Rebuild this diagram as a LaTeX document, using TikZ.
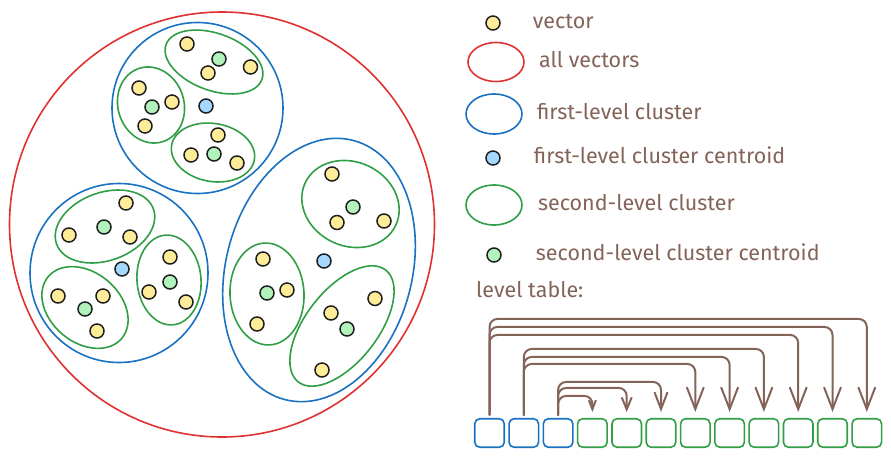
\documentclass[tikz,border=0pt]{standalone}
\usepackage{fontspec}
\setmainfont{Fira Sans}
\usepackage{tikz}
\usetikzlibrary{positioning,shapes.geometric,arrows.meta}

\definecolor{ink}{HTML}{1E1E1E}
\definecolor{allred}{HTML}{E03131}
\definecolor{firstblue}{HTML}{1971C2}
\definecolor{secondgreen}{HTML}{2F9E44}
\definecolor{vecfill}{HTML}{FFEC99}
\definecolor{firstfill}{HTML}{A5D8FF}
\definecolor{secondfill}{HTML}{B2F2BB}
\definecolor{brownink}{HTML}{846358}

\begin{document}
\begin{tikzpicture}[x=1pt,y=-1pt,node distance=3.2pt,
	dot/.style={circle,draw=ink,line width=1.5pt,minimum size=14pt,inner sep=0pt},
	vec/.style={dot,fill=vecfill},
	fcent/.style={dot,fill=firstfill},
	scent/.style={dot,fill=secondfill},
	allset/.style={circle,draw=allred,line width=1.6pt,inner sep=0pt},
	first/.style={ellipse,draw=firstblue,line width=1.6pt,inner sep=0pt},
	second/.style={ellipse,draw=secondgreen,line width=1.6pt,inner sep=0pt},
	word/.style={text=brownink,inner sep=0pt,text height=15.6pt,text depth=4pt,font=\fontsize{21.5}{26}\selectfont},
	cell/.style={draw,rounded corners=5pt,line width=1.6pt,minimum width=29.5pt,minimum height=28.5pt},
	link/.style={draw=brownink,line width=2pt,rounded corners=8pt,line cap=round,line join=round,shorten <=3pt,shorten >=6pt},
	big/.style={-{Straight Barb[length=22pt,width=17pt]}},
	mid/.style={-{Straight Barb[length=17pt,width=13pt]}},
	small/.style={-{Straight Barb[length=12pt,width=10pt]}},
	tiny/.style={-{Straight Barb[length=9pt,width=7pt]}}]
	\useasboundingbox (0,0) rectangle (891,458);

	% all vectors
	\node[allset,minimum size=425pt] (all) at (222,224.5) {};

	% first-level clusters
	\node[first,minimum width=171pt,minimum height=171pt] (f_1) at (197.5,108) {};
	\node[first,minimum width=178pt,minimum height=179pt] (f_2) at (119,273) {};
	\node[first,minimum width=186pt,minimum height=268pt,rotate=-15] (f_3) at (319,270) {};

	% second-level clusters
	\node[second,minimum width=102pt,minimum height=57pt,rotate=-20] (s_1) at (214,62) {};
	\node[second,minimum width=66pt,minimum height=77pt,rotate=18] (s_2) at (151,105) {};
	\node[second,minimum width=84pt,minimum height=58pt,rotate=-10] (s_3) at (213,152.5) {};
	\node[second,minimum width=103pt,minimum height=68pt,rotate=20] (s_4) at (105,226.5) {};
	\node[second,minimum width=64pt,minimum height=90pt,rotate=5] (s_5) at (169,280) {};
	\node[second,minimum width=96pt,minimum height=70pt,rotate=-40] (s_6) at (85,307.5) {};
	\node[second,minimum width=100pt,minimum height=84pt,rotate=-25] (s_7) at (350.5,204) {};
	\node[second,minimum width=74pt,minimum height=102pt,rotate=3] (s_8) at (267,294) {};
	\node[second,minimum width=142pt,minimum height=72pt,rotate=52] (s_9) at (342,326) {};

	% vectors and centroids
	\node[vec] (v_1) at (187,44) {};
	\node[vec] (v_2) at (208,73) {};
	\node[vec] (v_3) at (250.5,67) {};
	\node[scent] (sc_1) at (219,59) {};
	\node[vec] (v_4) at (139,88) {};
	\node[vec] (v_5) at (172,102) {};
	\node[vec] (v_6) at (145,126) {};
	\node[scent] (sc_2) at (152,107) {};
	\node[vec] (v_7) at (218,135) {};
	\node[vec] (v_8) at (191,155) {};
	\node[vec] (v_9) at (237,163) {};
	\node[scent] (sc_3) at (214,154) {};
	\node[fcent] (fc_1) at (206,106) {};

	\node[vec] (v_10) at (126,203) {};
	\node[vec] (v_11) at (69,235) {};
	\node[vec] (v_12) at (130,237) {};
	\node[scent] (sc_4) at (104,227) {};
	\node[vec] (v_13) at (170,257) {};
	\node[vec] (v_14) at (149,292) {};
	\node[vec] (v_15) at (186,302) {};
	\node[scent] (sc_5) at (170,282) {};
	\node[vec] (v_16) at (58,296) {};
	\node[vec] (v_17) at (103,296) {};
	\node[vec] (v_18) at (97,331) {};
	\node[scent] (sc_6) at (85,309) {};
	\node[fcent] (fc_2) at (122,269) {};

	\node[vec] (v_19) at (332,174) {};
	\node[vec] (v_20) at (337,222.5) {};
	\node[vec] (v_21) at (384,221) {};
	\node[scent] (sc_7) at (353,207) {};
	\node[vec] (v_22) at (263,259) {};
	\node[vec] (v_23) at (287,290) {};
	\node[vec] (v_24) at (257,324) {};
	\node[scent] (sc_8) at (267,293) {};
	\node[vec] (v_25) at (375,298.5) {};
	\node[vec] (v_26) at (331,313) {};
	\node[vec] (v_27) at (322,370) {};
	\node[scent] (sc_9) at (347,329) {};
	\node[fcent] (fc_3) at (324,261) {};

	% legend
	\node[vec] (leg_v) at (493,23) {};
	\node[allset,ellipse,minimum width=56pt,minimum height=39pt] (leg_all) at (496,62) {};
	\node[first,minimum width=56pt,minimum height=40pt] (leg_f) at (494,114) {};
	\node[fcent] (leg_fc) at (493,158) {};
	\node[second,minimum width=56pt,minimum height=40pt] (leg_s) at (494,205) {};
	\node[scent] (leg_sc) at (494,255) {};
	\node[word] (w_v) [right=32pt of leg_v] {vector};
	\node[word] (w_all) [right=14pt of leg_all] {all vectors};
	\node[word] (w_f) [right=14pt of leg_f] {first-level cluster};
	\node[word] (w_fc) [right=33pt of leg_fc] {first-level cluster centroid};
	\node[word] (w_s) [right=15pt of leg_s] {second-level cluster};
	\node[word] (w_sc) [right=34pt of leg_sc] {second-level cluster centroid};
	\node[word,anchor=west] (w_lt) at (476,292) {level table:};

	% level table
	\node[cell,draw=firstblue] (t_1) at (489.5,433) {};
	\node[cell,draw=firstblue] (t_2) [right=of t_1] {};
	\node[cell,draw=firstblue] (t_3) [right=of t_2] {};
	\node[cell,draw=secondgreen] (t_4) [right=of t_3] {};
	\node[cell,draw=secondgreen] (t_5) [right=of t_4] {};
	\node[cell,draw=secondgreen] (t_6) [right=of t_5] {};
	\node[cell,draw=secondgreen] (t_7) [right=of t_6] {};
	\node[cell,draw=secondgreen] (t_8) [right=of t_7] {};
	\node[cell,draw=secondgreen] (t_9) [right=of t_8] {};
	\node[cell,draw=secondgreen] (t_10) [right=of t_9] {};
	\node[cell,draw=secondgreen] (t_11) [right=of t_10] {};
	\node[cell,draw=secondgreen] (t_12) [right=of t_11] {};

	\draw[link,big] (t_1.north) -- ++(0,-99) -| (t_12.north);
	\draw[link,big] (t_1.north) -- ++(0,-91) -| (t_11.north);
	\draw[link,big] (t_1.north) -- ++(0,-83) -| (t_10.north);
	\draw[link,big] (t_2.north) -- ++(0,-69) -| (t_9.north);
	\draw[link,big] (t_2.north) -- ++(0,-61) -| (t_8.north);
	\draw[link,big] (t_2.north) -- ++(0,-54) -| (t_7.north);
	\draw[link,mid] (t_3.north) -- ++(0,-36) -| (t_6.north);
	\draw[link,small] (t_3.north) -- ++(0,-30) -| (t_5.north);
	\draw[link,tiny] (t_3.north) -- ++(0,-22) -| (t_4.north);
\end{tikzpicture}
\end{document}
